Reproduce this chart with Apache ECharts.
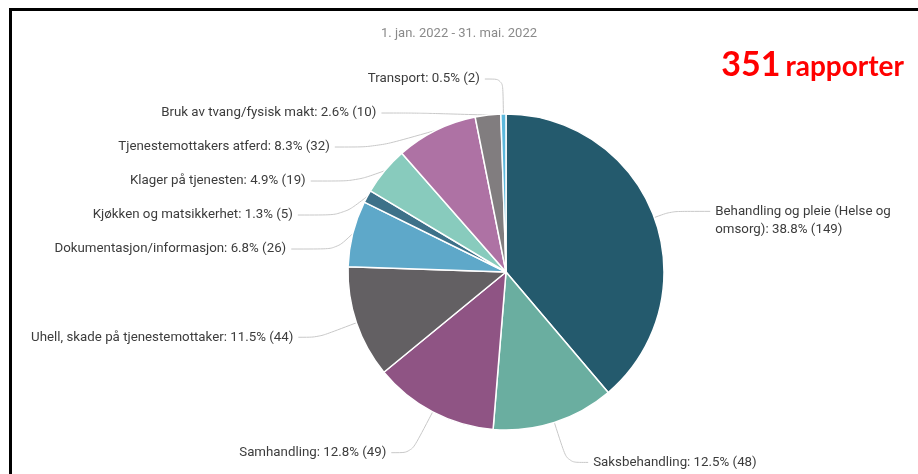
<!DOCTYPE html>
<html>
<head>
<meta charset="utf-8">
<script src="https://cdn.jsdelivr.net/npm/echarts@6/dist/echarts.min.js"></script>
<style>
  html, body { margin: 0; padding: 0; background: #fff; }
  #frame { position: absolute; left: 9px; top: 8px; width: 909px; height: 466px;
           border-top: 3px solid #000; border-left: 3px solid #000; box-sizing: border-box; }
  #chart { position: absolute; left: 0; top: 0; width: 918px; height: 474px; }
</style>
</head>
<body>
<div id="frame"></div>
<div id="chart"></div>
<script>
const categories = [
  'Behandling og pleie (Helse og omsorg)',
  'Saksbehandling',
  'Samhandling',
  'Uhell, skade på tjenestemottaker',
  'Dokumentasjon/informasjon',
  'Kjøkken og matsikkerhet',
  'Klager på tjenesten',
  'Tjenestemottakers atferd',
  'Bruk av tvang/fysisk makt',
  'Transport'
]
const counts = [149, 48, 49, 44, 26, 5, 19, 32, 10, 2]
const colors = ['#245a6d', '#6aaea0', '#8f5484', '#636063', '#5ea8c9',
                '#3d7189', '#88cbbd', '#ae72a4', '#817d7f', '#5db9dd']
const subtitle = '1. jan. 2022 - 31. mai. 2022'
const reportCount = 351

// connector tweaks so the labels spread like the original
const lineTweaks = {
  'Behandling og pleie (Helse og omsorg)': { length: 18, length2: 39 },
  'Saksbehandling': { length: 42, length2: 21 },
  'Samhandling': { length: 46, length2: 20 },
  'Uhell, skade på tjenestemottaker': { length: 45, length2: 20 },
  'Transport': { length: 35, length2: 18 },
  'Bruk av tvang/fysisk makt': { length: 5, length2: 37 },
  'Tjenestemottakers atferd': { length: 18, length2: 42 }
}

const total = counts.reduce((a, b) => a + b, 0)
const chart = echarts.init(document.getElementById('chart'))

const data = categories.map((name, i) => {
  const d = { name, value: counts[i], itemStyle: { color: colors[i] } }
  if (lineTweaks[name]) d.labelLine = lineTweaks[name]
  if (i === 0) d.label = { width: 185, overflow: 'break' }
  if (i === 1 || i === 2) d.label = { padding: 0 }
  return d
})

chart.setOption({
  animation: false,
  title: [
    { text: subtitle, left: 'center', top: 22,
      textStyle: { fontFamily: 'Roboto', fontSize: 13, fontWeight: 'normal', color: '#8a8a8a' } },
    { text: '{n|' + reportCount + '} {r|rapporter}', right: 9, top: 43,
      textStyle: { rich: {
        n: { fontFamily: 'Lato', fontSize: 34, fontWeight: 'bold', color: '#ff0000' },
        r: { fontFamily: 'Lato', fontSize: 28, fontWeight: 'bold', color: '#ff0000', padding: [4, 0, 0, 0] }
      } } }
  ],
  series: [{
    type: 'pie',
    center: [506, 272],
    radius: 158,
    startAngle: 90,
    clockwise: true,
    data,
    itemStyle: { borderColor: '#fff', borderWidth: 1.5 },
    label: {
      fontFamily: 'Roboto', fontSize: 13.3, color: '#3c3c3c', lineHeight: 18,
      padding: [7, 0, 7, 0],
      formatter: (p) => p.name + ': ' + (p.value / total * 100).toFixed(1) + '% (' + p.value + ')'
    },
    labelLine: { length: 18, length2: 45, smooth: 0.3, lineStyle: { color: '#c8c8c8', width: 1 } },
    labelLayout: (p) => (p.dataIndex === 0 ? { dy: 9 } : {})
  }]
})
</script>
</body>
</html>
